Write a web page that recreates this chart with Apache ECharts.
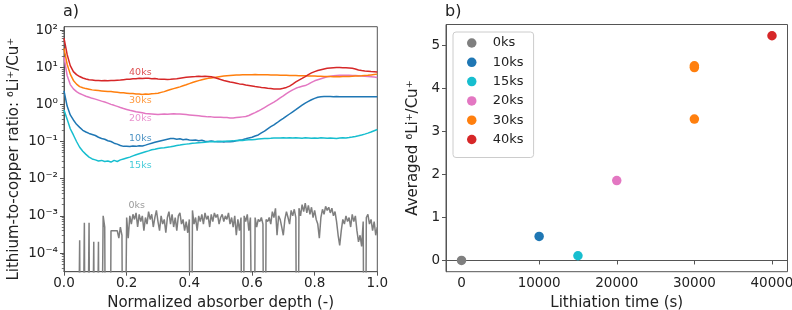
<!DOCTYPE html>
<html>
<head>
<meta charset="utf-8">
<script src="https://cdn.jsdelivr.net/npm/echarts@6/dist/echarts.min.js"></script>
<style>html,body{margin:0;padding:0;background:#fff}#c{width:792px;height:310px}</style>
</head>
<body>
<div id="c"></div>
<script>
// ---------- Panel a) depth profiles (x grid: 0..1 step 0.01 for coloured curves) ----------
const depth = Array.from({length: 101}, (_, i) => +(i / 100).toFixed(2));
const depthGray = Array.from({length: 201}, (_, i) => +(i / 200).toFixed(3));

const ratio40ks = [60,22,11,7.6,6.3,5.6,5.1,4.8,4.6,4.5,
  4.4,4.4,4.3,4.35,4.3,4.4,4.35,4.45,4.5,4.6,
  4.7,4.75,4.85,4.9,5.0,4.95,5.05,5.0,4.9,4.95,
  4.8,4.75,4.7,4.65,4.7,4.8,4.9,5.05,5.2,5.35,
  5.45,5.55,5.6,5.7,5.65,5.7,5.6,5.5,5.25,4.95,
  4.65,4.4,4.2,4.0,3.85,3.7,3.55,3.45,3.3,3.2,
  3.1,3.0,2.95,2.85,2.8,2.7,2.65,2.6,2.6,2.6,
  2.7,2.85,3.1,3.5,4.0,4.5,5.0,5.6,6.3,7.0,
  7.6,8.1,8.5,8.9,9.3,9.5,9.7,9.8,9.8,9.7,
  9.6,9.5,9.3,8.9,8.4,8.1,7.9,7.8,7.6,7.5,7.4];
const ratio30ks = [32,12,6.5,4.4,3.5,3.0,2.8,2.65,2.55,2.45,
  2.4,2.35,2.3,2.25,2.2,2.2,2.15,2.1,2.05,2.05,
  2.0,1.95,1.95,1.9,1.9,1.85,1.9,1.88,1.92,1.95,
  2.0,2.1,2.2,2.35,2.5,2.65,2.8,2.95,3.15,3.35,
  3.6,3.85,4.1,4.35,4.6,4.8,5.0,5.15,5.3,5.45,
  5.6,5.75,5.9,6.0,6.1,6.15,6.2,6.25,6.3,6.3,
  6.3,6.35,6.3,6.3,6.25,6.3,6.2,6.2,6.15,6.1,
  6.1,6.05,6.0,6.0,5.95,5.9,5.9,5.85,5.8,5.8,
  5.75,5.7,5.7,5.65,5.6,5.6,5.55,5.6,5.55,5.6,
  5.6,5.65,5.7,5.75,5.8,5.85,5.95,6.05,6.2,6.35,6.5];
const ratio20ks = [19,6.0,3.4,2.6,2.2,1.95,1.8,1.65,1.55,1.45,
  1.38,1.3,1.22,1.15,1.08,1.0,0.94,0.88,0.82,0.77,
  0.73,0.69,0.66,0.63,0.61,0.59,0.57,0.56,0.55,0.54,
  0.53,0.54,0.55,0.54,0.55,0.56,0.55,0.55,0.54,0.53,
  0.52,0.51,0.5,0.49,0.48,0.47,0.46,0.46,0.45,0.45,
  0.45,0.44,0.44,0.43,0.43,0.44,0.45,0.46,0.47,0.5,
  0.55,0.6,0.66,0.73,0.82,0.92,1.03,1.15,1.3,1.5,
  1.7,1.95,2.2,2.45,2.7,2.9,3.05,3.2,3.5,3.9,
  4.3,4.6,4.9,5.2,5.5,5.7,5.9,6.0,6.1,6.1,
  6.05,6.1,6.0,5.95,5.9,5.8,5.7,5.6,5.5,5.4,5.3];
const ratio10ks = [2.3,0.9,0.52,0.38,0.29,0.24,0.2,0.18,0.165,0.155,
  0.145,0.13,0.12,0.115,0.105,0.1,0.09,0.085,0.078,0.074,
  0.075,0.073,0.076,0.074,0.077,0.076,0.08,0.085,0.09,0.095,
  0.1,0.105,0.11,0.115,0.12,0.12,0.115,0.118,0.112,0.115,
  0.11,0.108,0.11,0.105,0.108,0.102,0.1,0.104,0.1,0.098,
  0.1,0.097,0.1,0.098,0.1,0.104,0.108,0.112,0.118,0.125,
  0.13,0.14,0.15,0.17,0.19,0.22,0.25,0.28,0.32,0.37,
  0.42,0.48,0.55,0.63,0.72,0.83,0.95,1.08,1.2,1.33,
  1.45,1.55,1.6,1.62,1.63,1.62,1.6,1.62,1.6,1.61,
  1.6,1.6,1.61,1.6,1.59,1.6,1.6,1.61,1.6,1.6,1.6];
const ratio15ks = [0.7,0.4,0.22,0.15,0.1,0.07,0.055,0.045,0.038,0.034,
  0.032,0.03,0.031,0.029,0.03,0.028,0.031,0.029,0.032,0.034,
  0.036,0.038,0.041,0.044,0.047,0.05,0.053,0.056,0.06,0.062,
  0.065,0.067,0.068,0.07,0.072,0.075,0.078,0.08,0.083,0.085,
  0.087,0.09,0.091,0.093,0.094,0.096,0.098,0.1,0.099,0.101,
  0.1,0.102,0.101,0.103,0.104,0.106,0.108,0.107,0.11,0.111,
  0.112,0.114,0.116,0.118,0.12,0.121,0.122,0.124,0.125,0.124,
  0.126,0.125,0.127,0.124,0.126,0.125,0.123,0.126,0.124,0.122,
  0.125,0.123,0.126,0.124,0.122,0.125,0.123,0.121,0.124,0.126,
  0.125,0.128,0.132,0.137,0.143,0.15,0.158,0.168,0.18,0.195,0.21];
// 0ks: step 0.005, zeros are real zero readings (drawn as drops off the log axis)
const ratio0ks = [0,0,0,0,0,0,0,0,0,0,
  2.2e-4,0,0,6.5e-4,0,0,6.5e-4,0,0,2e-4,
  0,0,2e-4,0,0,1e-3,5e-4,0,0,0,
  4e-4,4e-4,4e-4,4e-4,4e-4,2.5e-4,5e-4,3e-4,0,0,
  9e-4,2.5e-4,1e-3,6e-4,1.1e-3,8e-4,1.2e-3,5e-4,1.1e-3,7e-4,
  1e-3,4e-4,9e-4,6e-4,1.3e-3,8e-4,1.1e-3,5e-4,9e-4,1.4e-3,
  7e-4,4e-4,1e-3,6e-4,8e-4,3.5e-4,9e-4,1.3e-3,6e-4,1.1e-3,
  5e-4,9e-4,4e-4,1e-3,1.2e-3,6e-4,8e-4,4e-4,7e-4,3.5e-4,
  8e-4,0,1.4e-3,6e-4,9e-4,4e-4,1e-3,7e-4,1.1e-3,6e-4,
  1.2e-3,8e-4,1e-3,5e-4,1.1e-3,7e-4,1.2e-3,9e-4,1.1e-3,6e-4,
  9e-4,1.1e-3,7e-4,1e-3,8e-4,1.2e-3,6e-4,9e-4,5e-4,1e-3,
  3e-4,8e-4,4e-4,9e-4,0,1e-3,7e-4,1.1e-3,4e-4,9e-4,
  8e-4,0,9e-4,5e-4,8e-4,7e-4,9e-4,6e-4,0,8e-4,
  7e-4,9e-4,6e-4,1.3e-3,9e-4,1.6e-3,3e-4,1e-3,8e-4,5e-4,
  3e-4,8e-4,1.3e-3,9e-4,6e-4,1.4e-3,1e-3,1.5e-3,9e-4,0,
  1.6e-3,1e-3,2e-3,1.3e-3,2.2e-3,1.2e-3,1.9e-3,1.1e-3,1.7e-3,9e-4,
  1.4e-3,8e-4,6e-4,2.5e-4,9e-4,1.5e-3,1.1e-3,1.8e-3,1.4e-3,1.7e-3,
  1.2e-3,1.6e-3,1e-3,1.3e-3,7e-4,3e-4,1.6e-4,4e-4,8e-4,6e-4,
  1e-3,7e-4,9e-4,5e-4,1.1e-3,7e-4,1e-3,4e-4,2e-4,3e-4,
  1.5e-4,7e-4,0,9e-4,1.1e-3,6e-4,8e-4,4e-4,7e-4,3e-4,5e-4];

const profileNames = ['0ks','10ks','15ks','20ks','30ks','40ks'];
const colors = ['#7f7f7f','#1f77b4','#17becf','#e377c2','#ff7f0e','#d62728'];

// in-plot labels of panel a)
const labelText = ['40ks','30ks','20ks','10ks','15ks','0ks'];
const labelX = [0.206,0.206,0.206,0.206,0.206,0.204];
const labelY = [7.0,1.27,0.41,0.12,0.023,0.00195];
const labelColor = ['#d62728','#ff7f0e','#e377c2','#1f77b4','#17becf','#7f7f7f'];

const xTicksA = [0,0.2,0.4,0.6,0.8,1.0];
const yDecadesA = [1e-4,1e-3,1e-2,1e-1,1,10,100];
const yDecadeLabels = ['10⁻⁴','10⁻³','10⁻²','10⁻¹','10⁰','10¹','10²'];

// ---------- Panel b) averaged ratio vs lithiation time ----------
const timeS = [0,10000,15000,20000,30000,40000];
const avgRatio = [[0],[0.56],[0.11],[1.86],[4.49,4.53,3.29],[5.23]];
const xTicksB = [0,10000,20000,30000,40000];
const yTicksB = [0,1,2,3,4,5];

// ---------- build ----------
const FONT = 'DejaVu Sans';
const ZERO_ON_LOG = 1e-12; // zero readings fall off the log axis
const minors = [];
for (let e = -5; e <= 2; e++) for (let k = 2; k <= 9; k++) {
  const v = k * Math.pow(10, e);
  if (v > Math.pow(10, -4.503) && v < Math.pow(10, 2.089)) minors.push(v);
}
const profiles = [ratio0ks, ratio10ks, ratio15ks, ratio20ks, ratio30ks, ratio40ks];
const series = [];
profiles.forEach((vals, k) => {
  const xs = k === 0 ? depthGray : depth;
  series.push({
    type: 'line', name: 'profile ' + profileNames[k], xAxisIndex: 0, yAxisIndex: 0,
    data: xs.map((x, i) => [x, vals[i] > 0 ? vals[i] : ZERO_ON_LOG]),
    showSymbol: false, symbol: 'none', clip: true,
    lineStyle: {color: colors[k], width: 1.5}, itemStyle: {color: colors[k]},
    animation: false, silent: true, z: 2 + k
  });
});
series.push({
  type: 'scatter', name: 'labels', xAxisIndex: 0, yAxisIndex: 0,
  data: labelText.map((t, i) => ({name: t, value: [labelX[i], labelY[i]],
    label: {color: labelColor[i]}})),
  symbolSize: 1, itemStyle: {color: 'transparent'},
  label: {show: true, position: 'right', distance: 0, formatter: '{b}',
    fontFamily: FONT, fontSize: 9.5},
  animation: false, silent: true, z: 10
});
profileNames.forEach((n, k) => {
  series.push({
    type: 'scatter', name: n, xAxisIndex: 1, yAxisIndex: 2,
    data: avgRatio[k].map(v => [timeS[k], v]),
    symbolSize: 9.5, itemStyle: {color: colors[k], opacity: 1},
    animation: false
  });
});

const axisLineStyle = {color: '#555', width: 1};
const TICK_FS = 13.5;
const option = {
  animation: false,
  textStyle: {fontFamily: FONT},
  title: [
    {text: 'a)', left: 63, top: 4, padding: 0, textStyle: {fontFamily: FONT, fontSize: 16, fontWeight: 'normal', color: '#222'}},
    {text: 'b)', left: 445, top: 4, padding: 0, textStyle: {fontFamily: FONT, fontSize: 16, fontWeight: 'normal', color: '#222'}}
  ],
  legend: {
    data: profileNames, orient: 'vertical', left: 453, top: 32,
    icon: 'circle', itemWidth: 32, itemHeight: 9.5, itemGap: 5.3,
    textStyle: {fontFamily: FONT, fontSize: 13, color: '#222', lineHeight: 14},
    padding: [4, 10, 11, 14], borderColor: '#ccc', borderWidth: 1, borderRadius: 3,
    backgroundColor: 'rgba(255,255,255,0.8)', selectedMode: false
  },
  grid: [
    {left: 64, top: 26.7, width: 313.3, height: 245, show: true, borderColor: '#555', borderWidth: 1,
     backgroundColor: 'transparent', containLabel: false, outerBoundsMode: 'none'},
    {left: 446, top: 24.5, width: 341.5, height: 247.2, show: true, borderColor: '#555', borderWidth: 1,
     backgroundColor: 'transparent', containLabel: false, outerBoundsMode: 'none'}
  ],
  xAxis: [
    {type: 'value', gridIndex: 0, min: 0, max: 1,
     name: 'Normalized absorber depth (-)', nameLocation: 'middle', nameGap: 20,
     nameTextStyle: {fontFamily: FONT, fontSize: 15, color: '#222'},
     axisLine: {show: true, lineStyle: axisLineStyle},
     axisTick: {show: true, length: 4, lineStyle: axisLineStyle, customValues: xTicksA},
     axisLabel: {customValues: xTicksA, formatter: v => v.toFixed(1), margin: 5,
       fontFamily: FONT, fontSize: TICK_FS, color: '#222'},
     splitLine: {show: false}},
    {type: 'value', gridIndex: 1, min: -2000, max: 42000,
     name: 'Lithiation time (s)', nameLocation: 'middle', nameGap: 20,
     nameTextStyle: {fontFamily: FONT, fontSize: 15, color: '#222'},
     axisLine: {show: true, lineStyle: axisLineStyle},
     axisTick: {show: true, length: 4, lineStyle: axisLineStyle, customValues: xTicksB},
     axisLabel: {customValues: xTicksB, formatter: v => String(v), margin: 5,
       fontFamily: FONT, fontSize: TICK_FS, color: '#222'},
     splitLine: {show: false}}
  ],
  yAxis: [
    {type: 'log', logBase: 10, gridIndex: 0, min: Math.pow(10, -4.503), max: Math.pow(10, 2.089),
     name: 'Lithium-to-copper ratio: ⁶Li⁺/Cu⁺', nameLocation: 'middle', nameGap: 42,
     nameTextStyle: {fontFamily: FONT, fontSize: 15, color: '#222', padding: [0, 20, 0, 0]},
     axisLine: {show: true, onZero: false, lineStyle: axisLineStyle},
     axisTick: {show: true, length: 4, lineStyle: axisLineStyle, customValues: yDecadesA},
     axisLabel: {customValues: yDecadesA, margin: 6, fontFamily: FONT, fontSize: TICK_FS, color: '#222',
       formatter: v => yDecadeLabels[Math.round(Math.log10(v)) + 4]},
     splitLine: {show: false}},
    {type: 'log', logBase: 10, gridIndex: 0, min: Math.pow(10, -4.503), max: Math.pow(10, 2.089),
     position: 'left',
     axisLine: {show: false},
     axisTick: {show: true, length: 2.2, lineStyle: {color: '#555', width: 0.8}, customValues: minors},
     axisLabel: {show: false}, splitLine: {show: false}},
    {type: 'value', gridIndex: 1, min: -0.2615, max: 5.4915,
     name: 'Averaged ⁶Li⁺/Cu⁺', nameLocation: 'middle', nameGap: 25,
     nameTextStyle: {fontFamily: FONT, fontSize: 15, color: '#222'},
     axisLine: {show: true, onZero: false, lineStyle: axisLineStyle},
     axisTick: {show: true, length: 4, lineStyle: axisLineStyle, customValues: yTicksB},
     axisLabel: {customValues: yTicksB, formatter: v => String(v), margin: 6,
       fontFamily: FONT, fontSize: TICK_FS, color: '#222'},
     splitLine: {show: false}}
  ],
  series: series
};
const chart = echarts.init(document.getElementById('c'), null, {renderer: 'canvas'});
chart.setOption(option);
</script>
</body>
</html>
